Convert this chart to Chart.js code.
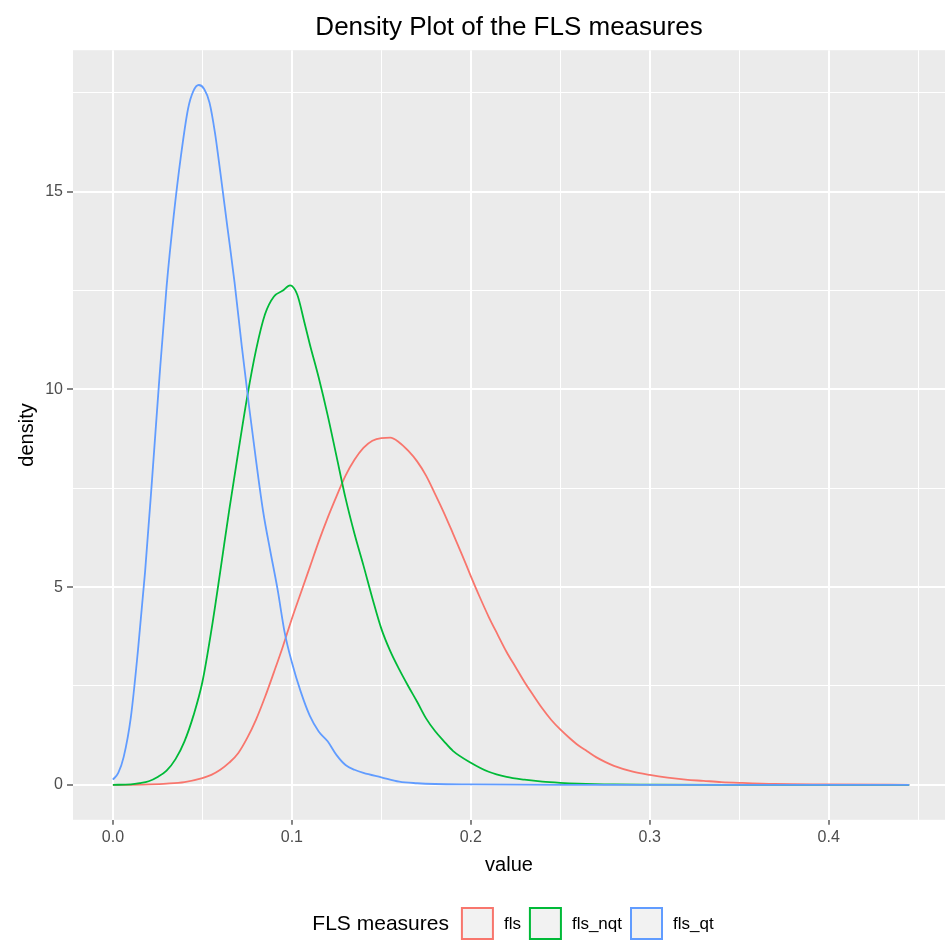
<!DOCTYPE html>
<html>
<head>
<meta charset="utf-8">
<title>Density Plot of the FLS measures</title>
<script src="https://cdn.jsdelivr.net/npm/chart.js@4.4.1/dist/chart.umd.min.js"></script>
<style>
  html, body { margin: 0; padding: 0; background: #ffffff; overflow: hidden; }
  #chart { display: block; }
</style>
</head>
<body>
<canvas id="chart" width="945" height="942"></canvas>
<script>
// series names / colours (ggplot default hues)
const seriesNames = ["fls", "fls_nqt", "fls_qt"];
const seriesColors = ["#F8766D", "#00BA38", "#619CFF"];

// fls
const flsX = [0, 0.010, 0.020, 0.030, 0.040, 0.050, 0.055, 0.060, 0.065, 0.070, 0.075, 0.080, 0.085, 0.090, 0.095,
  0.100, 0.105, 0.110, 0.115, 0.120, 0.125, 0.130, 0.135, 0.140, 0.145, 0.150, 0.155, 0.160, 0.165, 0.170,
  0.175, 0.180, 0.185, 0.190, 0.195, 0.200, 0.205, 0.210, 0.215, 0.220, 0.225, 0.230, 0.235, 0.240, 0.245,
  0.250, 0.255, 0.260, 0.265, 0.270, 0.275, 0.280, 0.290, 0.300, 0.310, 0.320, 0.330, 0.340, 0.350, 0.370,
  0.400, 0.445];
const flsY = [0, 0, 0.01, 0.03, 0.07, 0.17, 0.25, 0.38, 0.56, 0.80, 1.18, 1.65, 2.22, 2.85, 3.50,
  4.20, 4.85, 5.50, 6.15, 6.75, 7.30, 7.82, 8.22, 8.52, 8.70, 8.77, 8.78, 8.66, 8.45, 8.18,
  7.82, 7.36, 6.88, 6.36, 5.83, 5.28, 4.75, 4.25, 3.80, 3.36, 2.98, 2.60, 2.26, 1.93, 1.64,
  1.40, 1.19, 1.00, 0.85, 0.70, 0.58, 0.48, 0.34, 0.25, 0.18, 0.13, 0.10, 0.07, 0.05, 0.02,
  0.01, 0];

// fls_nqt
const nqtX = [0, 0.010, 0.015, 0.020, 0.025, 0.030, 0.035, 0.040, 0.045, 0.050, 0.055, 0.060, 0.065, 0.070, 0.075,
  0.080, 0.085, 0.090, 0.095, 0.099, 0.103, 0.107, 0.110, 0.115, 0.120, 0.125, 0.130, 0.135, 0.140, 0.145,
  0.150, 0.155, 0.160, 0.165, 0.170, 0.175, 0.180, 0.185, 0.190, 0.200, 0.210, 0.220, 0.230, 0.240, 0.250,
  0.260, 0.280, 0.300, 0.350, 0.400, 0.445];
const nqtY = [0, 0.01, 0.04, 0.09, 0.20, 0.36, 0.65, 1.10, 1.75, 2.60, 3.90, 5.40, 6.95, 8.40, 9.80,
  11.0, 11.9, 12.35, 12.5, 12.63, 12.4, 11.7, 11.15, 10.3, 9.35, 8.30, 7.25, 6.35, 5.55, 4.72,
  3.95, 3.38, 2.92, 2.50, 2.10, 1.68, 1.36, 1.10, 0.86, 0.56, 0.33, 0.20, 0.13, 0.08, 0.05,
  0.03, 0.01, 0.005, 0, 0, 0];

// fls_qt
const qtX = [0, 0.003, 0.006, 0.010, 0.014, 0.018, 0.022, 0.026, 0.030, 0.034, 0.038, 0.042, 0.045, 0.048, 0.051,
  0.054, 0.057, 0.060, 0.064, 0.068, 0.072, 0.076, 0.080, 0.084, 0.088, 0.092, 0.096, 0.100, 0.105, 0.110,
  0.115, 0.120, 0.125, 0.130, 0.135, 0.140, 0.150, 0.160, 0.170, 0.180, 0.200, 0.250, 0.300, 0.350, 0.400,
  0.445];
const qtY = [0.13, 0.30, 0.70, 1.70, 3.40, 5.40, 7.80, 10.3, 12.6, 14.4, 15.9, 17.1, 17.55, 17.7, 17.6,
  17.25, 16.5, 15.5, 14.1, 12.7, 11.1, 9.6, 8.2, 6.9, 5.9, 4.95, 3.85, 3.10, 2.35, 1.75,
  1.35, 1.10, 0.75, 0.50, 0.38, 0.30, 0.19, 0.08, 0.04, 0.02, 0.01, 0, 0, 0, 0,
  0];

// axes
const xMajorTicks = [0, 0.1, 0.2, 0.3, 0.4];
const xTickLabels = ["0.0", "0.1", "0.2", "0.3", "0.4"];
const xMinorTicks = [0.05, 0.15, 0.25, 0.35, 0.45];
const yMajorTicks = [0, 5, 10, 15];
const yTickLabels = ["0", "5", "10", "15"];
const yMinorTicks = [2.5, 7.5, 12.5, 17.5];

const FONT = '"Liberation Sans", Arial, Helvetica, sans-serif';

function toPoints(xs, ys) {
  return xs.map((x, i) => ({ x: x, y: ys[i] }));
}

function isMajor(list, v) {
  return list.some(m => Math.abs(m - v) < 1e-9);
}

// grey panel behind the grid
const panelPlugin = {
  id: 'panel',
  beforeDraw(chart) {
    const a = chart.chartArea;
    const ctx = chart.ctx;
    ctx.save();
    ctx.fillStyle = '#EBEBEB';
    ctx.fillRect(a.left, a.top, a.right - a.left, a.bottom - a.top);
    ctx.restore();
  }
};

// ggplot-like horizontal legend at the bottom
const legendPlugin = {
  id: 'ggLegend',
  afterDraw(chart) {
    const ctx = chart.ctx;
    ctx.save();
    const title = "FLS measures";
    ctx.font = '21px ' + FONT;
    const titleW = ctx.measureText(title).width;
    ctx.font = '17px ' + FONT;
    const labelW = seriesNames.map(n => ctx.measureText(n).width);
    const box = 33, gapTitle = 12, gapLabel = 10, gapItem = 8;
    let total = titleW + gapTitle;
    labelW.forEach((w, i) => { total += box + gapLabel + w + (i < labelW.length - 1 ? gapItem : 0); });
    let x = 513 - total / 2;
    const boxTop = 907, midY = 924;

    ctx.textBaseline = 'middle';
    ctx.textAlign = 'left';
    ctx.fillStyle = '#000000';
    ctx.font = '21px ' + FONT;
    ctx.fillText(title, x, midY);
    x += titleW + gapTitle;

    ctx.font = '17px ' + FONT;
    seriesNames.forEach((n, i) => {
      ctx.fillStyle = '#F2F2F2';
      ctx.fillRect(x, boxTop, box, box);
      ctx.strokeStyle = seriesColors[i];
      ctx.lineWidth = 2;
      ctx.strokeRect(x + 1, boxTop + 1, box - 2, box - 2);
      x += box + gapLabel;
      ctx.fillStyle = '#000000';
      ctx.fillText(n, x, midY);
      x += labelW[i] + gapItem;
    });
    ctx.restore();
  }
};

const datasets = [
  { label: seriesNames[0], data: toPoints(flsX, flsY), order: 3 },
  { label: seriesNames[1], data: toPoints(nqtX, nqtY), order: 2 },
  { label: seriesNames[2], data: toPoints(qtX, qtY), order: 1 }
].map((d, i) => Object.assign(d, {
  borderColor: seriesColors[i],
  backgroundColor: seriesColors[i],
  borderWidth: 1.8,
  pointRadius: 0,
  fill: false,
  cubicInterpolationMode: 'monotone'
}));

const config = {
  type: 'line',
  data: { datasets: datasets },
  options: {
    responsive: false,
    animation: false,
    devicePixelRatio: 1,
    layout: { padding: { left: 0, right: 0, top: 0, bottom: 61 } },
    plugins: {
      legend: { display: false },
      tooltip: { enabled: false },
      title: {
        display: true,
        text: 'Density Plot of the FLS measures',
        color: '#000000',
        fullSize: false,
        font: { family: FONT, size: 26, weight: 'normal' },
        padding: { top: 12, bottom: 7 }
      }
    },
    scales: {
      x: {
        type: 'linear',
        min: -0.0223,
        max: 0.465,
        afterBuildTicks: s => {
          s.ticks = xMajorTicks.concat(xMinorTicks).sort((a, b) => a - b).map(v => ({ value: v }));
        },
        border: { display: false },
        grid: {
          color: '#FFFFFF',
          lineWidth: c => isMajor(xMajorTicks, c.tick.value) ? 2 : 1,
          tickColor: c => isMajor(xMajorTicks, c.tick.value) ? '#333333' : 'rgba(0,0,0,0)',
          tickLength: 5,
          tickWidth: 1.2
        },
        ticks: {
          autoSkip: false,
          maxRotation: 0,
          padding: 3,
          color: '#4D4D4D',
          font: { family: FONT, size: 16 },
          callback: v => {
            const i = xMajorTicks.findIndex(m => Math.abs(m - v) < 1e-9);
            return i >= 0 ? xTickLabels[i] : '';
          }
        },
        title: {
          display: true,
          text: 'value',
          color: '#000000',
          font: { family: FONT, size: 20 },
          padding: { top: 3, bottom: 4 }
        }
      },
      y: {
        type: 'linear',
        min: -0.885,
        max: 18.58,
        afterBuildTicks: s => {
          s.ticks = yMajorTicks.concat(yMinorTicks).sort((a, b) => a - b).map(v => ({ value: v }));
        },
        afterFit: s => { s.width = 73; },
        border: { display: false },
        grid: {
          color: '#FFFFFF',
          lineWidth: c => isMajor(yMajorTicks, c.tick.value) ? 2 : 1,
          tickColor: c => isMajor(yMajorTicks, c.tick.value) ? '#333333' : 'rgba(0,0,0,0)',
          tickLength: 6,
          tickWidth: 1.2
        },
        ticks: {
          autoSkip: false,
          padding: 4,
          color: '#4D4D4D',
          font: { family: FONT, size: 16 },
          callback: v => {
            const i = yMajorTicks.findIndex(m => Math.abs(m - v) < 1e-9);
            return i >= 0 ? yTickLabels[i] : '';
          }
        },
        title: {
          display: true,
          text: 'density',
          color: '#000000',
          font: { family: FONT, size: 20 },
          padding: { top: 15, bottom: 4 }
        }
      }
    }
  },
  plugins: [panelPlugin, legendPlugin]
};

const ctx = document.getElementById('chart').getContext('2d');
new Chart(ctx, config);
</script>
</body>
</html>
